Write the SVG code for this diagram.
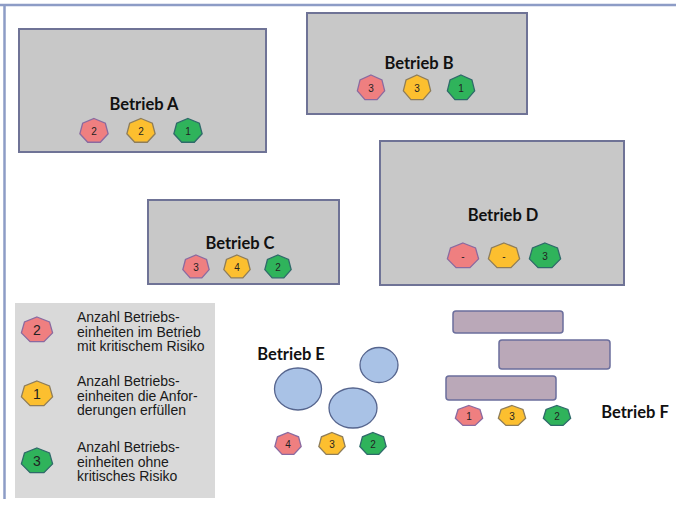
<svg xmlns="http://www.w3.org/2000/svg" xmlns:xlink="http://www.w3.org/1999/xlink" width="676" height="506" viewBox="0 0 676 506">
<style>
.bg{fill:#ffffff}
.frame{stroke:#8d9cc6;stroke-width:2.5;fill:none}
.box{fill:#c8c8c8;stroke:#6f7396;stroke-width:2}
.title{font-family:Lato,"Liberation Sans",sans-serif;font-weight:bold;font-size:16.5px;fill:#111}
.hr{fill:#ef7f80;stroke:#8a6aa0}
.hy{fill:#fcbf2f;stroke:#8e7d5a}
.hg{fill:#2fb35b;stroke:#2f6a6a}
.hp{stroke-width:1.3;vector-effect:non-scaling-stroke}
.num{font-family:"Liberation Sans",Arial,sans-serif;font-size:10px;fill:#222;text-anchor:middle}
.lnum{font-family:"Liberation Sans",Arial,sans-serif;font-size:14px;fill:#222;text-anchor:middle}
.leg{fill:#d9d9d9}
.lt{font-family:"Liberation Sans",Arial,sans-serif;font-size:14px;fill:#1a1a1a}
.ell{fill:#a9c2e6;stroke:#56658e;stroke-width:1.3}
.bar{fill:#baa8b8;stroke:#6b6e9c;stroke-width:1.5}
</style>
<defs>
<polygon id="hep" class="hp" points="0,-1 0.782,-0.623 0.975,0.223 0.434,0.901 -0.434,0.901 -0.975,0.223 -0.782,-0.623"/>
</defs>
<rect class="bg" x="0" y="0" width="676" height="506"/>
<g id="frame">
<line class="frame" x1="0" y1="5" x2="676" y2="5"/>
<line class="frame" x1="4.5" y1="5" x2="4.5" y2="499"/>
</g>
<g id="betrieb-a">
<rect class="box" x="19" y="29" width="247" height="123"/>
<text class="title" x="144" y="110" text-anchor="middle">Betrieb A</text>
<use xlink:href="#hep" class="hr" transform="translate(94,131) scale(14.5,12.5)"/>
<text class="num" x="94" y="135">2</text>
<use xlink:href="#hep" class="hy" transform="translate(141,131) scale(14.5,12.5)"/>
<text class="num" x="141" y="135">2</text>
<use xlink:href="#hep" class="hg" transform="translate(188,131) scale(14.5,12.5)"/>
<text class="num" x="188" y="135">1</text>
</g>
<g id="betrieb-b">
<rect class="box" x="307" y="13" width="220" height="101"/>
<text class="title" x="419" y="69" text-anchor="middle">Betrieb B</text>
<use xlink:href="#hep" class="hr" transform="translate(371,88) scale(14,13)"/>
<text class="num" x="371" y="92">3</text>
<use xlink:href="#hep" class="hy" transform="translate(417,88) scale(14,13)"/>
<text class="num" x="417" y="92">3</text>
<use xlink:href="#hep" class="hg" transform="translate(461,88) scale(14,13)"/>
<text class="num" x="461" y="92">1</text>
</g>
<g id="betrieb-c">
<rect class="box" x="148" y="200" width="191" height="84"/>
<text class="title" x="240" y="249" text-anchor="middle">Betrieb C</text>
<use xlink:href="#hep" class="hr" transform="translate(196,267) scale(13.5,12)"/>
<text class="num" x="196" y="271">3</text>
<use xlink:href="#hep" class="hy" transform="translate(237,267) scale(13.5,12)"/>
<text class="num" x="237" y="271">4</text>
<use xlink:href="#hep" class="hg" transform="translate(278,267) scale(13.5,12)"/>
<text class="num" x="278" y="271">2</text>
</g>
<g id="betrieb-d">
<rect class="box" x="380" y="141" width="244" height="144"/>
<text class="title" x="503" y="221" text-anchor="middle">Betrieb D</text>
<use xlink:href="#hep" class="hr" transform="translate(463,256) scale(16,13)"/>
<text class="num" x="463" y="260">-</text>
<use xlink:href="#hep" class="hy" transform="translate(504,256) scale(16,13)"/>
<text class="num" x="504" y="260">-</text>
<use xlink:href="#hep" class="hg" transform="translate(545,256) scale(16,13)"/>
<text class="num" x="545" y="260">3</text>
</g>
<g id="betrieb-e">
<text class="title" x="291" y="360" text-anchor="middle">Betrieb E</text>
<ellipse class="ell" cx="379" cy="365" rx="19" ry="17.5"/>
<ellipse class="ell" cx="298" cy="389" rx="23.5" ry="21"/>
<ellipse class="ell" cx="353" cy="408" rx="24" ry="20"/>
<use xlink:href="#hep" class="hr" transform="translate(288,444) scale(13.5,11.5)"/>
<text class="num" x="288" y="448">4</text>
<use xlink:href="#hep" class="hy" transform="translate(332,444) scale(13.5,11.5)"/>
<text class="num" x="332" y="448">3</text>
<use xlink:href="#hep" class="hg" transform="translate(373,444) scale(13.5,11.5)"/>
<text class="num" x="373" y="448">2</text>
</g>
<g id="betrieb-f">
<rect class="bar" x="453" y="311" width="110" height="22" rx="3"/>
<rect class="bar" x="499" y="340" width="111" height="29" rx="3"/>
<rect class="bar" x="446" y="376" width="110" height="24" rx="3"/>
<use xlink:href="#hep" class="hr" transform="translate(469,416) scale(14,10.5)"/>
<text class="num" x="469" y="420">1</text>
<use xlink:href="#hep" class="hy" transform="translate(512,416) scale(14,10.5)"/>
<text class="num" x="512" y="420">3</text>
<use xlink:href="#hep" class="hg" transform="translate(557,416) scale(14,10.5)"/>
<text class="num" x="557" y="420">2</text>
<text class="title" x="635" y="418" text-anchor="middle">Betrieb F</text>
</g>
<g id="legend">
<rect class="leg" x="15" y="303" width="200" height="195"/>
<use xlink:href="#hep" class="hr" transform="translate(37,330) scale(16,13)"/>
<text class="lnum" x="37" y="335">2</text>
<text class="lt" x="77" y="322">Anzahl Betriebs-</text>
<text class="lt" x="77" y="336.5">einheiten im Betrieb</text>
<text class="lt" x="77" y="351">mit kritischem Risiko</text>
<use xlink:href="#hep" class="hy" transform="translate(37,394) scale(16,13)"/>
<text class="lnum" x="37" y="399">1</text>
<text class="lt" x="77" y="386">Anzahl Betriebs-</text>
<text class="lt" x="77" y="400.5">einheiten die Anfor-</text>
<text class="lt" x="77" y="415">derungen erfüllen</text>
<use xlink:href="#hep" class="hg" transform="translate(37,461) scale(16,13)"/>
<text class="lnum" x="37" y="466">3</text>
<text class="lt" x="77" y="452">Anzahl Betriebs-</text>
<text class="lt" x="77" y="466.5">einheiten ohne</text>
<text class="lt" x="77" y="481">kritisches Risiko</text>
</g>
</svg>
